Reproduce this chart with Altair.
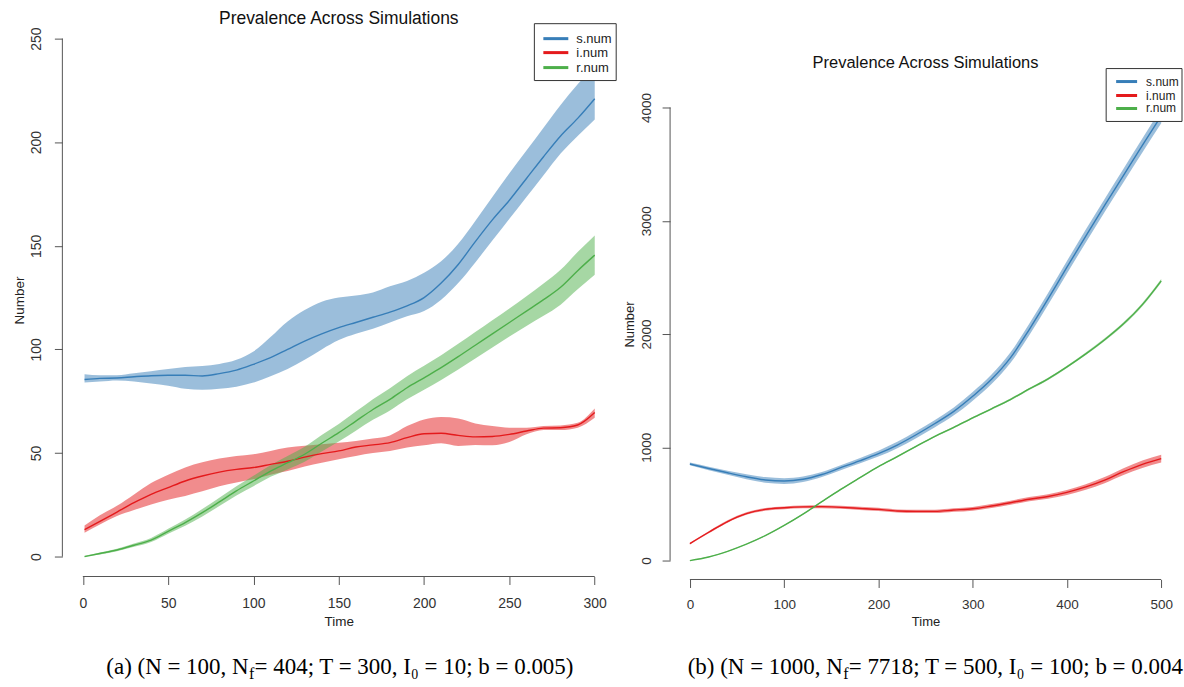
import altair as alt
import pandas as pd

SERIES = ["s.num", "i.num", "r.num"]
COLORS = ["#377EB8", "#E41A1C", "#4DAF4A"]

# ---------------- panel (a) ----------------
time_a = [1, 10, 20, 30, 40, 50, 60, 70, 80, 90, 100, 110, 120, 130, 140, 150,
          160, 170, 180, 190, 200, 210, 220, 230, 240, 250, 260, 270, 280, 290, 300]
s_mean_a = [85.5, 86, 86.2, 86.8, 87.3, 87.5, 87.5, 87.2, 88.3, 90, 92.8, 96, 100, 104, 107.5, 110.5,
            113, 115.5, 118, 121, 125, 132, 141, 152, 162.5, 172, 182.5, 193, 203, 211.5, 221]
s_hi_a = [88, 87.5, 87.5, 88.5, 89.5, 90.5, 91.5, 92, 93, 95, 99, 106, 113.5, 119, 123, 125,
          126, 127.5, 130.5, 133, 137, 142.5, 151, 162, 173.5, 185, 196, 207, 218, 228, 237]
s_lo_a = [84, 84.5, 85, 84.5, 83.5, 82.5, 81, 80.5, 81, 82, 84, 87, 90.5, 95, 100, 104.5,
          107.5, 110, 113, 116, 118.5, 124, 132, 142, 152.5, 163, 173.5, 184, 194.5, 203, 211]
i_mean_a = [13, 17, 21.5, 26, 30, 33.3, 36.5, 38.9, 40.8, 42.1, 43, 44.5, 46, 48, 49.7, 51,
            52.9, 53.9, 55, 57.4, 59.3, 59.5, 58.5, 57.8, 58, 59, 60.6, 62, 62.2, 63.5, 69.5]
i_hi_a = [15, 20, 24.5, 30, 35.5, 39.5, 43, 45.5, 47.3, 48.5, 49.4, 51, 52.6, 53.5, 54.2, 55,
          55.8, 57, 58.5, 63, 66.2, 67.4, 66.7, 64.3, 63, 62.2, 62.2, 63, 63.3, 64.6, 71.5]
i_lo_a = [11.5, 15.5, 19.6, 22.5, 25.2, 27.5, 29.3, 31.5, 34, 35.8, 37.3, 39.5, 41.3, 43.5, 45.3, 47,
          48.6, 50, 51, 52.6, 53.7, 54.7, 53.4, 53.9, 53.7, 55.3, 59, 61.1, 61.1, 62.2, 67]
r_mean_a = [0, 1.5, 3.2, 5.5, 8, 12.2, 16.4, 21.2, 26.4, 31.7, 36.5, 41.3, 45.3, 49.4, 54.7, 59.8,
            65.4, 71, 75.9, 81.5, 86.3, 91.2, 96.5, 102, 107.5, 113, 118.5, 124, 130, 138, 145.5]
r_hi_a = [0.4, 2.0, 3.8, 6.3, 9.0, 13.4, 17.9, 23.0, 28.4, 33.9, 39.0, 44.1, 48.5, 53.0, 58.7, 64.0,
          70.0, 76.0, 81.3, 87.1, 92.1, 97.2, 102.7, 108.4, 114.1, 119.8, 125.7, 131.8, 138.4, 147.0, 155.0]
r_lo_a = [0, 1.0, 2.6, 4.7, 7.0, 11.0, 14.9, 19.4, 24.4, 29.5, 34.0, 38.5, 42.1, 45.8, 50.7, 55.6,
          60.8, 66.0, 70.5, 75.9, 80.5, 85.2, 90.3, 95.6, 100.9, 106.2, 111.3, 116.2, 121.6, 129.0, 136.0]
xticks_a = [0, 50, 100, 150, 200, 250, 300]
yticks_a = [0, 50, 100, 150, 200, 250]

# ---------------- panel (b) ----------------
time_b = [0, 20, 40, 60, 80, 100, 120, 140, 160, 180, 200, 220, 240, 260, 280, 300,
          320, 340, 360, 380, 400, 420, 440, 460, 480, 500]
s_mean_b = [853, 813, 775, 740, 712, 702, 718, 760, 820, 880, 944, 1020, 1111, 1210, 1317, 1450,
            1600, 1790, 2040, 2310, 2590, 2865, 3135, 3400, 3665, 3925]
s_hi_b = [865, 828, 793, 762, 737, 727, 742, 782, 842, 904, 970, 1048, 1141, 1242, 1352, 1488,
          1642, 1836, 2090, 2362, 2645, 2922, 3193, 3460, 3727, 3990]
s_lo_b = [841, 798, 757, 718, 687, 677, 694, 738, 798, 856, 918, 992, 1081, 1178, 1282, 1412,
          1558, 1744, 1990, 2258, 2535, 2808, 3077, 3340, 3603, 3860]
i_mean_b = [150, 250, 345, 415, 452, 466, 474, 476, 470, 461, 452, 438, 434, 434, 446, 457,
            482, 511, 542, 566, 602, 650, 710, 785, 850, 900]
i_hi_b = [158, 259, 355, 426, 464, 478, 486, 489, 483, 475, 466, 452, 449, 449, 461, 473,
          499, 529, 561, 586, 624, 674, 737, 815, 883, 935]
i_lo_b = [142, 241, 335, 404, 440, 454, 462, 463, 457, 447, 438, 424, 419, 419, 431, 441,
          465, 493, 523, 546, 580, 626, 683, 755, 817, 865]
r_mean_b = [0, 32, 82, 145, 220, 310, 410, 520, 628, 730, 830, 918, 1009, 1097, 1176, 1260,
            1340, 1422, 1515, 1605, 1710, 1825, 1950, 2090, 2260, 2470]
r_hi_b = [2, 35, 85, 149, 224, 315, 415, 525, 634, 736, 836, 925, 1016, 1104, 1184, 1268,
          1348, 1431, 1524, 1615, 1720, 1836, 1962, 2103, 2274, 2485]
r_lo_b = [0, 29, 79, 141, 216, 305, 405, 515, 622, 724, 824, 911, 1002, 1090, 1168, 1252,
          1332, 1413, 1506, 1595, 1700, 1814, 1938, 2077, 2246, 2455]
xticks_b = [0, 100, 200, 300, 400, 500]
yticks_b = [0, 1000, 2000, 3000, 4000]

TITLE = "Prevalence Across Simulations"
caption_a = ["(a) (N = 100, N", "f", "\u00a0= 404; T = 300, I\u2080 = 10; b = 0.005)"]
caption_b = ["(b) (N = 1000, N", "f", "\u00a0= 7718; T = 500, I\u2080 = 100; b = 0.004)"]

SANS = "Liberation Sans"
SERIF = "Liberation Serif"


def frame(t, means, los, his):
    rows = []
    for name, m, lo, hi in zip(SERIES, means, los, his):
        for ti, mi, li, hv in zip(t, m, lo, hi):
            rows.append({"time": ti, "series": name, "mean": mi, "lo": li, "hi": hv})
    return pd.DataFrame(rows)


def legend_layers(box, line_x0, line_x1, rows_y, text_x, fs):
    x0, y0, x1, y1 = box
    layers = [alt.Chart(pd.DataFrame({"k": ["box"]})).mark_rect(
        fill="white", stroke="#333", strokeWidth=1).encode(
        x=alt.value(x0), x2=alt.value(x1), y=alt.value(y0), y2=alt.value(y1))]
    for name, col, ry in zip(SERIES, COLORS, rows_y):
        d = pd.DataFrame({"label": [name]})
        layers.append(alt.Chart(d).mark_rule(color=col, strokeWidth=3).encode(
            x=alt.value(line_x0), x2=alt.value(line_x1), y=alt.value(ry)))
        layers.append(alt.Chart(d).mark_text(
            align="left", baseline="middle", font=SANS, fontSize=fs, color="#222").encode(
            text="label:N", x=alt.value(text_x), y=alt.value(ry)))
    return layers


def panel(df, W, H, xdom, ydom, xticks, yticks, fs, title_fs, title_off,
          xlab_pad, ylab_pad, xtitle_y, ytitle_x, ytitle_y, legend,
          cap, cap_x, cap_y, cap_fs, cap_limit):
    cscale = alt.Scale(domain=SERIES, range=COLORS)
    x = alt.X("time:Q", scale=alt.Scale(domain=xdom, nice=False, zero=False),
              axis=alt.Axis(values=xticks, title="Time", domain=False, grid=False, format="d",
                            tickSize=8, tickColor="#555", tickWidth=1,
                            labelFont=SANS, labelFontSize=fs, labelColor="#333",
                            labelBaseline="middle", labelPadding=xlab_pad, labelFlush=False,
                            titleFont=SANS, titleFontSize=fs - 0.5, titleFontWeight="normal",
                            titleColor="#222", titleY=xtitle_y, titleBaseline="middle"))
    y = alt.Y("lo:Q", stack=None, scale=alt.Scale(domain=ydom, nice=False, zero=False),
              axis=alt.Axis(values=yticks, title="Number", domain=False, grid=False, format="d",
                            tickSize=8, tickColor="#555", tickWidth=1,
                            labelFont=SANS, labelFontSize=fs, labelColor="#333",
                            labelAngle=270, labelAlign="center", labelBaseline="middle",
                            labelPadding=ylab_pad, labelFlush=False,
                            titleFont=SANS, titleFontSize=fs - 0.5, titleFontWeight="normal",
                            titleColor="#222", titleAngle=270, titleX=ytitle_x,
                            titleY=ytitle_y, titleBaseline="middle", titleAlign="center"))
    band = alt.Chart(df).mark_area(fillOpacity=0.5, interpolate="monotone").encode(
        x=x, y=y, y2="hi:Q",
        color=alt.Color("series:N", scale=cscale, legend=None),
        detail="series:N")
    line = alt.Chart(df).mark_line(strokeWidth=1.4, interpolate="monotone").encode(
        x="time:Q", y="mean:Q",
        color=alt.Color("series:N", scale=cscale, legend=None))
    xr = alt.Chart(pd.DataFrame({"x0": [min(xticks)], "x1": [max(xticks)]})).mark_rule(
        color="#555", strokeWidth=1).encode(x="x0:Q", x2="x1:Q", y=alt.value(H))
    yr = alt.Chart(pd.DataFrame({"y0": [min(yticks)], "y1": [max(yticks)]})).mark_rule(
        color="#555", strokeWidth=1).encode(y="y0:Q", y2="y1:Q", x=alt.value(0))
    c1 = alt.Chart(pd.DataFrame({"t": [cap[0]]})).mark_text(
        align="right", baseline="alphabetic", font=SERIF, fontSize=cap_fs, color="black").encode(
        text="t:N", x=alt.value(cap_x), y=alt.value(cap_y))
    c2 = alt.Chart(pd.DataFrame({"t": [cap[1]]})).mark_text(
        align="left", baseline="alphabetic", font=SERIF, fontSize=cap_fs * 0.7, color="black").encode(
        text="t:N", x=alt.value(cap_x + 0.5), y=alt.value(cap_y + 5))
    c3 = alt.Chart(pd.DataFrame({"t": [cap[2]]})).mark_text(
        align="left", baseline="alphabetic", font=SERIF, fontSize=cap_fs, color="black",
        limit=cap_limit, ellipsis="\u200b").encode(
        text="t:N", x=alt.value(cap_x + 0.5 + cap_fs * 0.24), y=alt.value(cap_y))
    return alt.layer(band, line, xr, yr, *legend_layers(*legend), c1, c2, c3).properties(
        width=W, height=H,
        title=alt.TitleParams(TITLE, font=SANS, fontSize=title_fs, fontWeight="normal",
                              color="#111", anchor="middle", baseline="middle", offset=title_off))


df_a = frame(time_a, [s_mean_a, i_mean_a, r_mean_a], [s_lo_a, i_lo_a, r_lo_a], [s_hi_a, i_hi_a, r_hi_a])
df_b = frame(time_b, [s_mean_b, i_mean_b, r_mean_b], [s_lo_b, i_lo_b, r_lo_b], [s_hi_b, i_hi_b, r_hi_b])

pa = panel(df_a, 554, 554, [-12, 312], [-9.6, 257.2], xticks_a, yticks_a, 14, 17.5, -13,
           19, 18, 45, -43, 277,
           ((473, 0, 555, 57), 482, 507, [15, 29, 44], 515, 13),
           caption_a, 186.6, 652, 23, 600)
pb = panel(df_b, 512, 557, [-21, 521], [-167, 4740], xticks_b, yticks_b, 13.5, 16.5, -56,
           17, 16, 42, -41, 301,
           ((437, 45, 513, 98), 447, 468, [58, 72, 85], 477, 12),
           caption_b, 173, 652, 23, 338)

chart = alt.hconcat(pa, pb, spacing=6).resolve_scale(color="independent").configure_view(
    stroke=None).properties(
    padding={"left": 12.5, "top": 9, "right": 0, "bottom": 0}, background="white")

chart.save("out.html", embed_options={"renderer": "svg", "actions": False})
